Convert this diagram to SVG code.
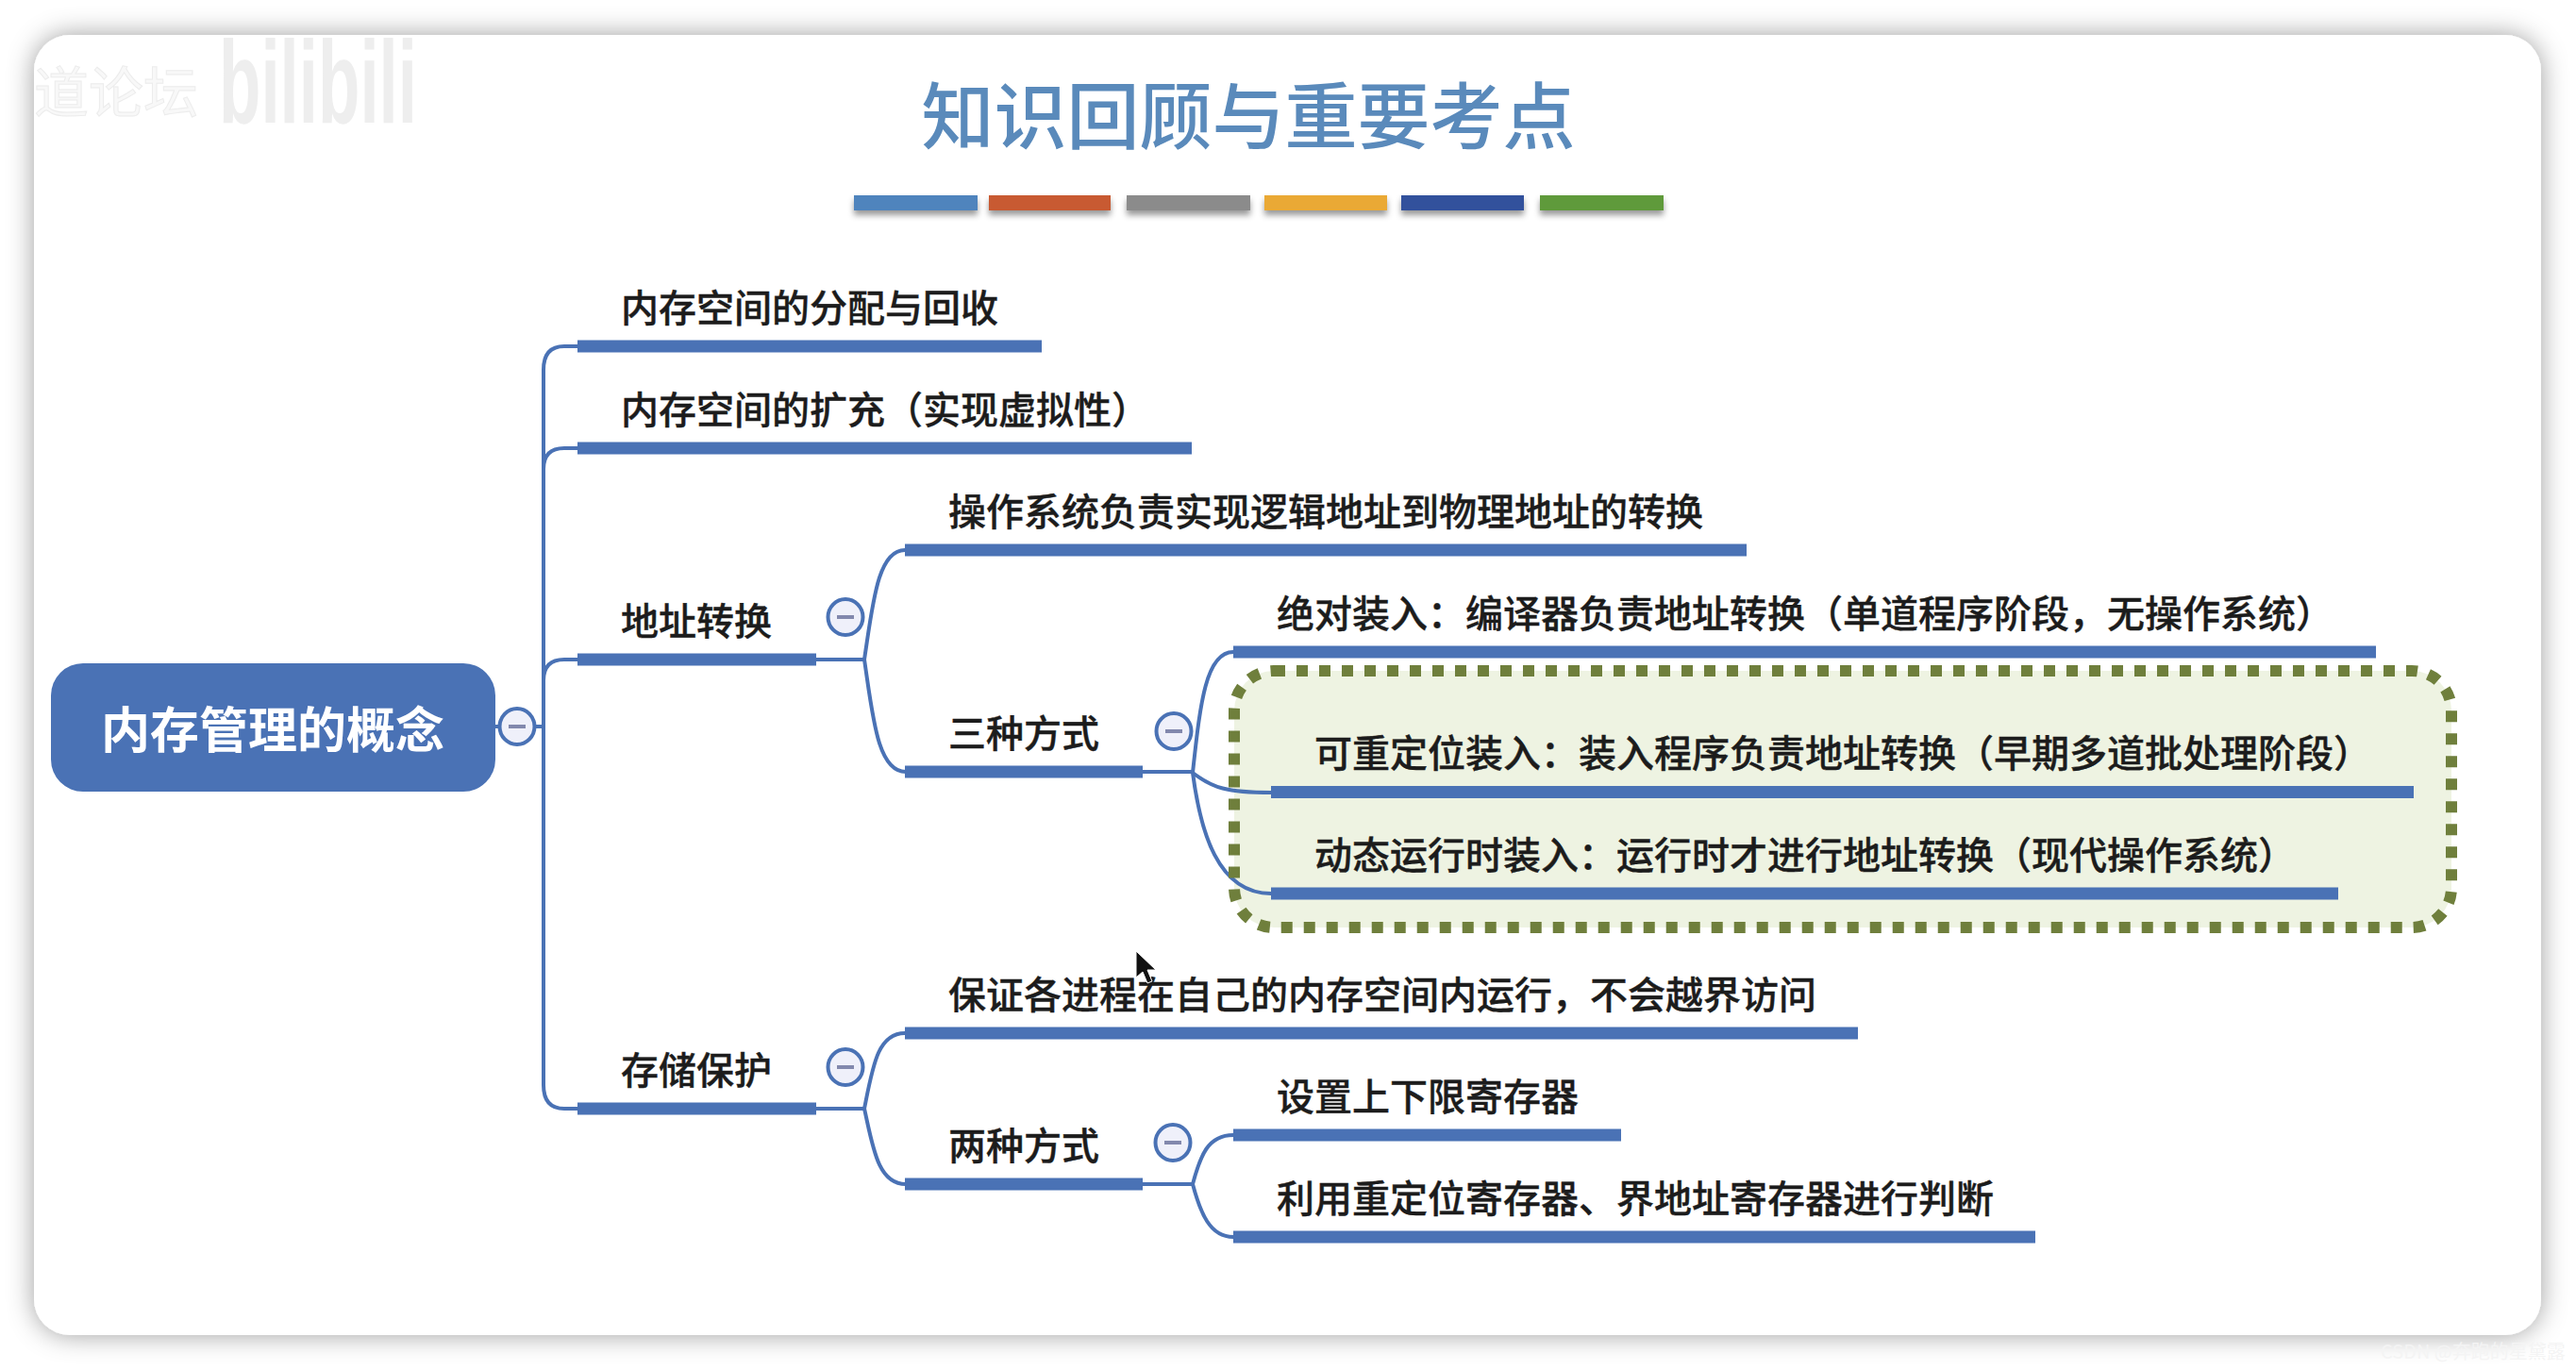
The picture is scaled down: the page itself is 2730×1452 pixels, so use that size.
<svg xmlns="http://www.w3.org/2000/svg" width="2730" height="1452" viewBox="0 0 2730 1452">
<style>
text{font-family:"Noto Sans CJK SC","Liberation Sans",sans-serif}
.t{font-size:40px;font-weight:500;fill:#1c1c1c;stroke:#1c1c1c;stroke-width:.4}
.bar{fill:#4a72b5}
.line{fill:none;stroke:#4a72b5;stroke-width:4}
.cb{fill:#eff0fa;stroke:#4a72b5;stroke-width:4}
.cm{stroke:#8288ad;stroke-width:4}
</style>
<defs>
<filter id="panelShadow" x="-5%" y="-8%" width="110%" height="116%"><feDropShadow dx="0" dy="0" stdDeviation="14" flood-color="#000" flood-opacity="0.38"/></filter>
<filter id="barShadow" x="-10%" y="-50%" width="120%" height="250%"><feDropShadow dx="0" dy="5" stdDeviation="3" flood-color="#000" flood-opacity="0.4"/></filter>
<g id="minus"><ellipse cx="0" cy="0" rx="18.5" ry="19" class="cb"/><line x1="-9" x2="9" y1="0" y2="0" class="cm"/></g>
</defs>
<rect width="2730" height="1452" fill="#fff"/>
<rect id="panel" x="36" y="37" width="2657" height="1378" rx="38" fill="#fff" filter="url(#panelShadow)"/>
<text id="wm-csdn" x="2523" y="1440" font-size="20" fill="#f4f4f4">CSDN @奔跑的星黛露</text>
<g id="watermark">
<text x="36" y="119" font-size="58" fill="#f8f8f8" stroke="#ececec" stroke-width="1">道论坛</text>
<text x="232" y="130" font-size="124" font-weight="700" fill="#eeeeee" textLength="210" lengthAdjust="spacingAndGlyphs" style="font-family:'Liberation Sans',sans-serif">bilibili</text>
</g>
<g id="title">
<text x="1323" y="152" font-size="77" font-weight="500" fill="#5a8abb" text-anchor="middle">知识回顾与重要考点</text>
<g filter="url(#barShadow)">
<rect x="905" y="207" width="131" height="16" fill="#4f84bd"/>
<rect x="1048" y="207" width="129" height="16" fill="#c85a32"/>
<rect x="1194" y="207" width="131" height="16" fill="#8b8b8b"/>
<rect x="1340" y="207" width="130" height="16" fill="#eaa935"/>
<rect x="1485" y="207" width="130" height="16" fill="#30519c"/>
<rect x="1632" y="207" width="131" height="16" fill="#5f9a3a"/>
</g>
</g>
<rect id="highlight-fill" x="1308" y="711" width="1290" height="272" rx="42" fill="#eef3e2"/>
<g id="connectors">
<path class="line" d="M524 770H576"/>
<path class="line" d="M612 367H598Q576 367 576 392V1150Q576 1175 598 1175H612"/>
<path class="line" d="M612 475H598Q576 475 576 497"/>
<path class="line" d="M612 699H598Q576 699 576 721"/>
<path class="line" d="M865 699H916"/>
<path class="line" d="M959 583C930 583 925 640 916 699C925 760 930 818 960 818"/>
<path class="line" d="M865 1175H916"/>
<path class="line" d="M959 1095C930 1095 925 1130 916 1175C925 1215 930 1255 960 1255"/>
<path class="line" d="M1211 818H1264"/>
<path class="line" d="M1307 691C1278 691 1272 745 1264 819C1272 880 1290 947 1347 947"/>
<path class="line" d="M1264 819C1285 835 1300 840 1347 840"/>
<path class="line" d="M1211 1255H1264"/>
<path class="line" d="M1307 1203C1280 1203 1272 1225 1264 1255C1272 1285 1282 1311 1307 1311"/>
</g>
<rect id="highlight-border" x="1308" y="711" width="1290" height="272" rx="42" fill="none" stroke="#6f7f3c" stroke-width="12" stroke-dasharray="12 12"/>
<g id="root">
<rect x="54" y="703" width="471" height="136" rx="34" fill="#4a72b5"/>
<text x="289" y="793" font-size="52" font-weight="700" fill="#fff" text-anchor="middle">内存管理的概念</text>
<use href="#minus" x="548" y="770"/>
</g>
<g id="n1"><rect class="bar" x="612" y="360.500" width="492" height="13"/><text class="t" x="658" y="341">内存空间的分配与回收</text></g>
<g id="n2"><rect class="bar" x="612" y="468.500" width="651" height="13"/><text class="t" x="658" y="449">内存空间的扩充（实现虚拟性）</text></g>
<g id="n3"><rect class="bar" x="612" y="692.500" width="253" height="13"/><text class="t" x="658" y="673">地址转换</text><use href="#minus" x="896" y="654"/></g>
<g id="n31"><rect class="bar" x="959" y="576.500" width="892" height="13"/><text class="t" x="1005" y="557">操作系统负责实现逻辑地址到物理地址的转换</text></g>
<g id="n32"><rect class="bar" x="959" y="811.500" width="252" height="13"/><text class="t" x="1005" y="792">三种方式</text><use href="#minus" x="1244" y="775"/></g>
<g id="n321"><rect class="bar" x="1307" y="684.500" width="1211" height="13"/><text class="t" x="1353" y="665">绝对装入：编译器负责地址转换（单道程序阶段，无操作系统）</text></g>
<g id="n322"><rect class="bar" x="1347" y="833" width="1211" height="13"/><text class="t" x="1393" y="813">可重定位装入：装入程序负责地址转换（早期多道批处理阶段）</text></g>
<g id="n323"><rect class="bar" x="1347" y="940.500" width="1131" height="13"/><text class="t" x="1393" y="921">动态运行时装入：运行时才进行地址转换（现代操作系统）</text></g>
<g id="n4"><rect class="bar" x="612" y="1168.500" width="253" height="13"/><text class="t" x="658" y="1149">存储保护</text><use href="#minus" x="896" y="1131"/></g>
<g id="n41"><rect class="bar" x="959" y="1088.500" width="1010" height="13"/><text class="t" x="1005" y="1069">保证各进程在自己的内存空间内运行，不会越界访问</text></g>
<g id="n42"><rect class="bar" x="959" y="1248.500" width="252" height="13"/><text class="t" x="1005" y="1229">两种方式</text><use href="#minus" x="1243" y="1211"/></g>
<g id="n421"><rect class="bar" x="1307" y="1196.500" width="411" height="13"/><text class="t" x="1353" y="1177">设置上下限寄存器</text></g>
<g id="n422"><rect class="bar" x="1307" y="1304.500" width="850" height="13"/><text class="t" x="1353" y="1285">利用重定位寄存器、界地址寄存器进行判断</text></g>
<path id="cursor" d="M1204 1008V1036L1211 1030L1216 1042L1221 1040L1216 1028L1225 1028Z" fill="#111" stroke="#fff" stroke-width="1"/>
</svg>
